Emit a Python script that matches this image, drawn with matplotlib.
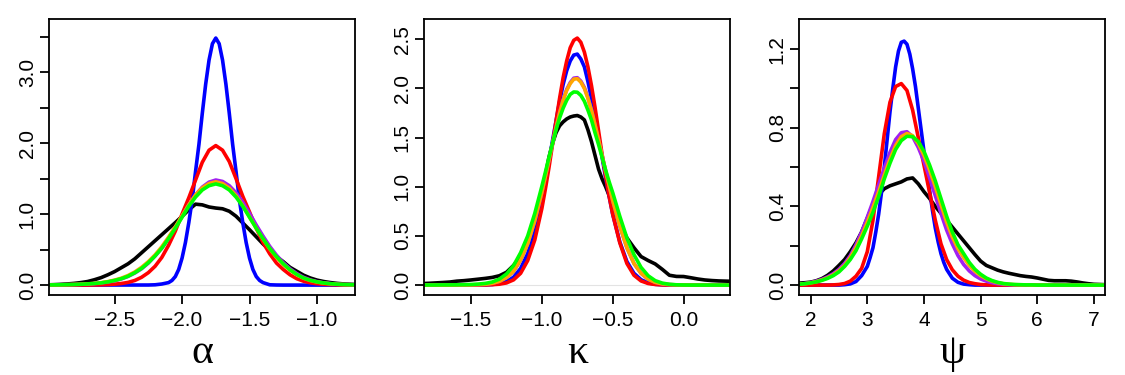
import matplotlib
matplotlib.use("Agg")
import matplotlib.pyplot as plt
import numpy as np

# ---------------- data ----------------
colors = {"black": "#000000", "blue": "#0000FF", "red": "#FF0000",
          "purple": "#A020F0", "orange": "#FFA500", "green": "#00FF00"}
draw_order = ["black", "blue", "red", "purple", "orange", "green"]

# alpha panel
x_alpha = np.round(np.arange(-3.0, -0.699, 0.05), 3)
x_alpha_blue = [-3.0, -2.25, -2.2, -2.15, -2.1, -2.075, -2.05, -2.025, -2.0, -1.975, -1.95, -1.925,
                -1.9, -1.875, -1.85, -1.825, -1.8, -1.775, -1.75, -1.725, -1.7, -1.675, -1.65,
                -1.625, -1.6, -1.575, -1.55, -1.525, -1.5, -1.475, -1.45, -1.425, -1.4, -1.35,
                -1.3, -1.25, -0.7]
alpha_blue = [0.0, 0.001, 0.004, 0.015, 0.035, 0.065, 0.12, 0.22, 0.38, 0.6, 0.88, 1.2,
              1.6, 1.98, 2.42, 2.83, 3.17, 3.40, 3.48, 3.40, 3.17, 2.83, 2.42,
              1.98, 1.6, 1.2, 0.88, 0.6, 0.38, 0.22, 0.12, 0.065, 0.035, 0.004,
              0.001, 0.0, 0.0]
alpha_black = [0.003, 0.006, 0.01, 0.016, 0.024, 0.035, 0.05, 0.075, 0.105, 0.145,
               0.19, 0.245, 0.30, 0.37, 0.455, 0.54, 0.625, 0.71, 0.795, 0.88,
               0.968, 1.06, 1.14, 1.13, 1.10, 1.085, 1.075, 1.04, 0.97, 0.875,
               0.78, 0.68, 0.58, 0.49, 0.40, 0.33, 0.25, 0.195, 0.14, 0.10,
               0.07, 0.05, 0.035, 0.024, 0.016, 0.011, 0.007]
alpha_red = [0, 0, 0, 0, 0, 0.001, 0.001, 0.002, 0.004, 0.007, 0.013, 0.022, 0.038,
             0.065, 0.11, 0.175, 0.265, 0.39, 0.56, 0.76, 1.0, 1.23, 1.48, 1.73, 1.90, 1.965,
             1.90, 1.74, 1.50, 1.25, 1.03, 0.80, 0.60, 0.44, 0.31, 0.22, 0.145, 0.09,
             0.055, 0.032, 0.019, 0.011, 0.006, 0.004, 0.002, 0.001, 0.001]
alpha_purple = [0.002, 0.003, 0.004, 0.006, 0.008, 0.011, 0.015, 0.021, 0.03, 0.043, 0.062,
                0.087, 0.122, 0.17, 0.23, 0.31, 0.41, 0.52, 0.66, 0.81, 0.97, 1.13, 1.27,
                1.38, 1.45, 1.48,
                1.46, 1.40, 1.30, 1.17, 1.01, 0.845, 0.69, 0.545, 0.42, 0.315, 0.23, 0.162,
                0.11, 0.074, 0.049, 0.032, 0.021, 0.013, 0.008, 0.005, 0.003]
alpha_orange = [0.002, 0.003, 0.004, 0.006, 0.009, 0.012, 0.017, 0.024, 0.034, 0.049, 0.07,
                0.097, 0.135, 0.185, 0.25, 0.33, 0.425, 0.54, 0.675, 0.82, 0.975, 1.13, 1.27,
                1.37, 1.43, 1.455,
                1.43, 1.365, 1.26, 1.12, 0.96, 0.80, 0.65, 0.51, 0.39, 0.29, 0.21, 0.145,
                0.097, 0.065, 0.043, 0.028, 0.018, 0.011, 0.007, 0.005, 0.003]
alpha_green = [0.002, 0.003, 0.004, 0.006, 0.008, 0.011, 0.016, 0.022, 0.031, 0.045, 0.065,
               0.09, 0.125, 0.175, 0.235, 0.315, 0.41, 0.52, 0.655, 0.80, 0.955, 1.11, 1.24,
               1.34, 1.40, 1.425,
               1.40, 1.34, 1.24, 1.11, 0.955, 0.80, 0.655, 0.515, 0.40, 0.30, 0.215, 0.15,
               0.10, 0.068, 0.045, 0.03, 0.019, 0.012, 0.008, 0.005, 0.003]

# kappa panel (finer grid through the peak)
x_kappa = np.round(np.r_[np.arange(-1.85, -1.049, 0.05),
                         np.arange(-1.0, -0.499, 0.025),
                         np.arange(-0.45, 0.351, 0.05)], 3)
kappa_black = [0.015, 0.018, 0.022, 0.026, 0.031, 0.04, 0.045, 0.052, 0.06, 0.068,
               0.078, 0.095, 0.13, 0.20, 0.29, 0.43, 0.66,
               0.93, 1.12, 1.30, 1.44, 1.55, 1.62, 1.66, 1.69, 1.71, 1.72, 1.725,
               1.71, 1.68, 1.58, 1.46, 1.32, 1.18, 1.08, 1.0, 0.91, 0.82,
               0.63, 0.48, 0.38, 0.29, 0.25, 0.215, 0.16, 0.10, 0.088, 0.087,
               0.075, 0.062, 0.052, 0.046, 0.042, 0.04, 0.038]
kappa_blue = [0, 0, 0, 0, 0, 0, 0, 0, 0.001, 0.002, 0.006, 0.015, 0.035, 0.08, 0.17, 0.32, 0.55,
              0.86, 1.056, 1.26, 1.47, 1.67, 1.87, 2.04, 2.18, 2.28, 2.34, 2.35,
              2.30, 2.22, 2.07, 1.90, 1.71, 1.51, 1.30, 1.09, 0.90, 0.72,
              0.44, 0.24, 0.12, 0.055, 0.022, 0.008, 0.003, 0.001,
              0, 0, 0, 0, 0, 0, 0, 0, 0]
kappa_red = [0, 0, 0, 0, 0, 0, 0, 0, 0.001, 0.002, 0.004, 0.009, 0.022, 0.053, 0.12, 0.25, 0.46,
             0.78, 0.98, 1.195, 1.43, 1.67, 1.90, 2.11, 2.28, 2.415, 2.49, 2.513,
             2.47, 2.37, 2.22, 2.03, 1.81, 1.57, 1.33, 1.11, 0.90, 0.72,
             0.43, 0.22, 0.10, 0.042, 0.016, 0.006, 0.002, 0.001,
             0, 0, 0, 0, 0, 0, 0, 0, 0]
kappa_purple = [0, 0, 0, 0, 0, 0.001, 0.001, 0.002, 0.004, 0.008, 0.018, 0.038, 0.076, 0.14,
                0.255, 0.42, 0.655,
                0.945, 1.107, 1.27, 1.44, 1.60, 1.755, 1.885, 1.99, 2.06, 2.105, 2.11,
                2.075, 2.01, 1.91, 1.78, 1.63, 1.48, 1.32, 1.16, 1.01, 0.86,
                0.60, 0.38, 0.22, 0.12, 0.06, 0.028, 0.012, 0.005, 0.002, 0.001,
                0, 0, 0, 0, 0, 0, 0]
kappa_orange = [0, 0, 0, 0, 0, 0.001, 0.001, 0.002, 0.004, 0.008, 0.018, 0.038, 0.076, 0.14,
                0.255, 0.42, 0.655,
                0.945, 1.107, 1.27, 1.44, 1.60, 1.75, 1.88, 1.98, 2.05, 2.095, 2.10,
                2.065, 2.00, 1.90, 1.78, 1.63, 1.48, 1.32, 1.16, 1.01, 0.86,
                0.60, 0.38, 0.22, 0.12, 0.06, 0.028, 0.012, 0.005, 0.002, 0.001,
                0, 0, 0, 0, 0, 0, 0]
kappa_green = [0.001, 0.001, 0.001, 0.002, 0.002, 0.003, 0.004, 0.006, 0.01, 0.017, 0.031,
               0.061, 0.113, 0.198, 0.33, 0.50, 0.73,
               1.006, 1.15, 1.30, 1.44, 1.58, 1.70, 1.80, 1.88, 1.94, 1.965, 1.962,
               1.93, 1.87, 1.78, 1.68, 1.55, 1.43, 1.30, 1.17, 1.05, 0.94,
               0.70, 0.48, 0.31, 0.18, 0.095, 0.045, 0.02, 0.008, 0.003, 0.001,
               0, 0, 0, 0, 0, 0, 0]

# psi panel
x_psi = np.round(np.arange(1.8, 7.201, 0.1), 3)
psi_black = [0.01, 0.012, 0.015, 0.022, 0.033, 0.05, 0.072, 0.10, 0.13, 0.17,
             0.215, 0.27, 0.34, 0.41, 0.46, 0.49, 0.505, 0.515, 0.525, 0.54,
             0.545, 0.515, 0.475, 0.44, 0.40, 0.365, 0.33, 0.295, 0.26, 0.225,
             0.19, 0.155, 0.122, 0.10, 0.088, 0.076, 0.067, 0.06, 0.054, 0.048,
             0.044, 0.041, 0.036, 0.03, 0.024, 0.022, 0.022, 0.022, 0.02, 0.016,
             0.011, 0.007, 0.004, 0.003, 0.002]
x_psi_blue = [1.8, 2.5, 2.6, 2.7, 2.8, 2.9, 3.0, 3.05, 3.1, 3.15, 3.2, 3.25, 3.3, 3.35,
              3.4, 3.45, 3.5, 3.55, 3.6, 3.65, 3.7, 3.75, 3.8, 3.85, 3.9, 3.95, 4.0,
              4.05, 4.1, 4.15, 4.2, 4.25, 4.3, 4.35, 4.4, 4.5, 4.6, 4.7, 4.8, 4.9, 7.2]
psi_blue = [0, 0, 0.002, 0.006, 0.018, 0.048, 0.095, 0.14, 0.19, 0.27, 0.36, 0.47, 0.60, 0.74,
            0.88, 1.0, 1.11, 1.19, 1.235, 1.241, 1.225, 1.175, 1.10, 1.01, 0.90, 0.79, 0.68,
            0.58, 0.48, 0.38, 0.29, 0.22, 0.16, 0.115, 0.08, 0.035, 0.014, 0.005, 0.002, 0, 0]
psi_red = [0, 0, 0, 0, 0, 0,
           0.001, 0.003, 0.008, 0.02, 0.045, 0.085, 0.17, 0.33, 0.55, 0.77, 0.93, 1.01,
           1.025, 0.99, 0.89, 0.75, 0.61, 0.47, 0.33, 0.21, 0.13, 0.078, 0.045, 0.025,
           0.013, 0.007, 0.003, 0.001,
           0, 0, 0, 0, 0, 0, 0, 0, 0, 0, 0, 0, 0, 0, 0, 0, 0, 0, 0, 0, 0]
psi_purple = [0.005, 0.008, 0.013, 0.02, 0.029, 0.042, 0.058, 0.08, 0.11, 0.15,
              0.205, 0.27, 0.345, 0.425, 0.51, 0.595, 0.675, 0.74, 0.775, 0.78,
              0.755, 0.70, 0.63, 0.545, 0.455, 0.365, 0.28, 0.21, 0.15, 0.105,
              0.072, 0.048, 0.031, 0.02, 0.012, 0.007, 0.004, 0.002, 0.001, 0.001,
              0, 0, 0, 0, 0, 0, 0, 0, 0, 0, 0, 0, 0, 0, 0]
psi_orange = [0.004, 0.007, 0.011, 0.017, 0.026, 0.037, 0.052, 0.073, 0.10, 0.14,
              0.19, 0.25, 0.32, 0.395, 0.475, 0.56, 0.64, 0.71, 0.755, 0.771,
              0.76, 0.72, 0.66, 0.585, 0.50, 0.41, 0.32, 0.245, 0.185, 0.14,
              0.10, 0.07, 0.048, 0.032, 0.02, 0.012, 0.007, 0.004, 0.002, 0.001,
              0.001, 0, 0, 0, 0, 0, 0, 0, 0, 0, 0, 0, 0, 0, 0]
psi_green = [0.004, 0.007, 0.011, 0.016, 0.024, 0.034, 0.048, 0.067, 0.095, 0.13,
             0.175, 0.235, 0.30, 0.37, 0.45, 0.54, 0.62, 0.69, 0.735, 0.757,
             0.755, 0.73, 0.68, 0.61, 0.53, 0.44, 0.35, 0.27, 0.205, 0.16,
             0.115, 0.08, 0.055, 0.036, 0.023, 0.014, 0.008, 0.005, 0.003, 0.002,
             0.001, 0.001, 0, 0, 0, 0, 0, 0, 0, 0, 0, 0, 0, 0, 0]

panels = [
    dict(label="α", xlim=(-2.984, -0.716), ylim=(-0.144, 3.744),
         xticks=[-2.5, -2.0, -1.5, -1.0], xticklabels=["−2.5", "−2.0", "−1.5", "−1.0"],
         yticks=[0, 0.5, 1.0, 1.5, 2.0, 2.5, 3.0, 3.5],
         yticklabels=["0.0", "", "1.0", "", "2.0", "", "3.0", ""],
         curves={"black": (x_alpha, alpha_black), "blue": (x_alpha_blue, alpha_blue),
                 "red": (x_alpha, alpha_red), "purple": (x_alpha, alpha_purple),
                 "orange": (x_alpha, alpha_orange), "green": (x_alpha, alpha_green)}),
    dict(label="κ", xlim=(-1.83, 0.33), ylim=(-0.104, 2.704),
         xticks=[-1.5, -1.0, -0.5, 0.0], xticklabels=["−1.5", "−1.0", "−0.5", "0.0"],
         yticks=[0, 0.5, 1.0, 1.5, 2.0, 2.5],
         yticklabels=["0.0", "0.5", "1.0", "1.5", "2.0", "2.5"],
         curves={"black": (x_kappa, kappa_black), "blue": (x_kappa, kappa_blue),
                 "red": (x_kappa, kappa_red), "purple": (x_kappa, kappa_purple),
                 "orange": (x_kappa, kappa_orange), "green": (x_kappa, kappa_green)}),
    dict(label="ψ", xlim=(1.8, 7.2), ylim=(-0.052, 1.352),
         xticks=[2, 3, 4, 5, 6, 7], xticklabels=["2", "3", "4", "5", "6", "7"],
         yticks=[0, 0.2, 0.4, 0.6, 0.8, 1.0, 1.2],
         yticklabels=["0.0", "", "0.4", "", "0.8", "", "1.2"],
         curves={"black": (x_psi, psi_black), "blue": (x_psi_blue, psi_blue),
                 "red": (x_psi, psi_red), "purple": (x_psi, psi_purple),
                 "orange": (x_psi, psi_orange), "green": (x_psi, psi_green)}),
]

# ---------------- drawing ----------------
W, H = 1125, 375
plt.rcParams["font.family"] = ["Liberation Sans", "DejaVu Sans"]
fig = plt.figure(figsize=(W / 100, H / 100), dpi=100)

lefts = [49.3, 424.3, 799.3]
ax_w, top_px, bot_px = 306.0, 19.3, 295.3

for left, p in zip(lefts, panels):
    ax = fig.add_axes([left / W, 1 - bot_px / H, ax_w / W, (bot_px - top_px) / H])
    ax.axhline(0, color="#e3e3e3", lw=0.8, zorder=1)
    for name in draw_order:
        xs, ys = p["curves"][name]
        ax.plot(xs, ys, color=colors[name], lw=2.6, solid_joinstyle="round",
                solid_capstyle="round", zorder=2)
    ax.set_xlim(*p["xlim"])
    ax.set_ylim(*p["ylim"])
    ax.set_xticks(p["xticks"])
    ax.set_xticklabels(p["xticklabels"])
    ax.set_yticks(p["yticks"])
    ax.set_yticklabels(p["yticklabels"], rotation=90, va="center")
    for s in ax.spines.values():
        s.set_linewidth(1.3)
    ax.tick_params(direction="out", length=6.5, width=1.3, labelsize=15, pad=4.5)
    ax.tick_params(axis="y", pad=2.5)
    cx = (left + ax_w / 2) / W
    fig.text(cx, 1 - 363 / H, p["label"], ha="center", va="baseline",
             fontsize=30, family=["Liberation Serif", "DejaVu Serif"])

fig.savefig("out.png", dpi=100)
